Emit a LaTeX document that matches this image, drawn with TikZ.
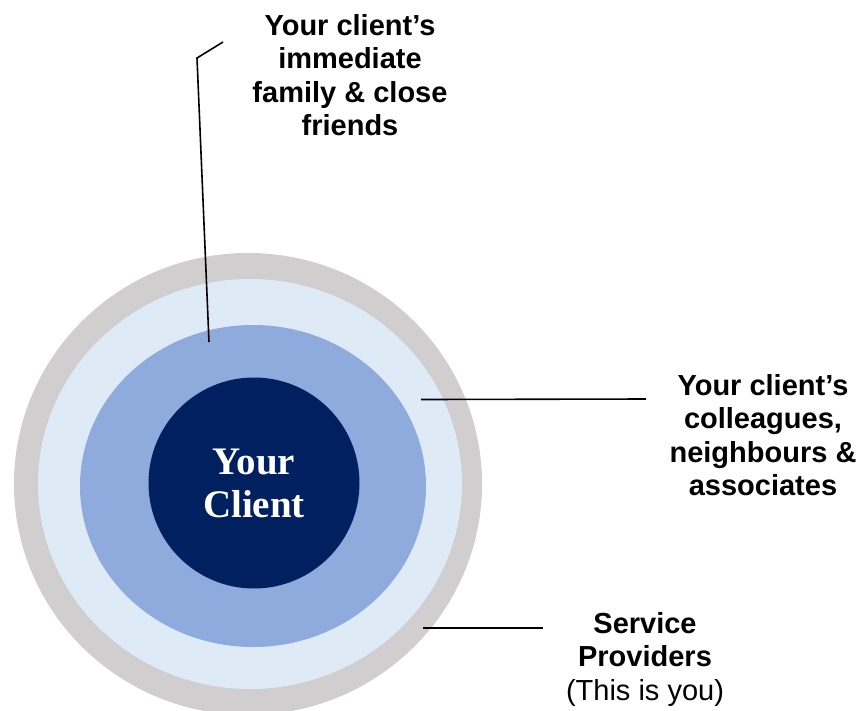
\documentclass[tikz,border=0pt]{standalone}
\usepackage{fontspec}
\setmainfont{Liberation Sans}
\newfontfamily\clientfont{Liberation Serif}
\usetikzlibrary{shapes.geometric}
\definecolor{ringgray}{HTML}{D0CECE}
\definecolor{lightring}{HTML}{DEEBF7}
\definecolor{midring}{HTML}{8FAADC}
\definecolor{navy}{HTML}{002060}
\begin{document}
\begin{tikzpicture}[x=1pt,y=-1pt,
  lbl/.style={align=center,inner sep=0pt,anchor=north,font=\bfseries\fontsize{29}{33.5}\selectfont},
  conn/.style={draw=black,line width=1.6pt}]
\useasboundingbox (0,0) rectangle (864,710);
\begin{scope}
\clip (0,0) rectangle (864,710);
\fill[ringgray] (248,484) ellipse [x radius=234, y radius=231];
\fill[lightring] (250,484) ellipse [x radius=212, y radius=205];
\fill[midring] (253,486) ellipse [x radius=173, y radius=161];
\end{scope}
\node[circle, fill=navy, minimum size=211pt, inner sep=0pt, align=center, text=white,
  font=\clientfont\bfseries\fontsize{39}{43}\selectfont] (client) at (254,483) {Your\\Client};
\node[lbl] (fam) at (350,14) {Your client’s\\immediate\\family \& close\\friends};
\node[lbl] (col) at (763,374) {Your client’s\\colleagues,\\neighbours \&\\associates};
\node[lbl] (svc) at (645,612) {Service\\Providers\\{\mdseries (This is you)}};
\coordinate (famin) at (209,342);
\coordinate (famknee) at (197,58);
\coordinate (famend) at (223,42);
\coordinate (colin) at (421,399.5);
\coordinate (colend) at (646,399);
\coordinate (svcin) at (423,628);
\coordinate (svcend) at (543,628);
\draw[conn] (famin) -- (famknee) -- (famend);
\draw[conn] (colin) -- (colend);
\draw[conn] (svcin) -- (svcend);
\end{tikzpicture}
\end{document}
